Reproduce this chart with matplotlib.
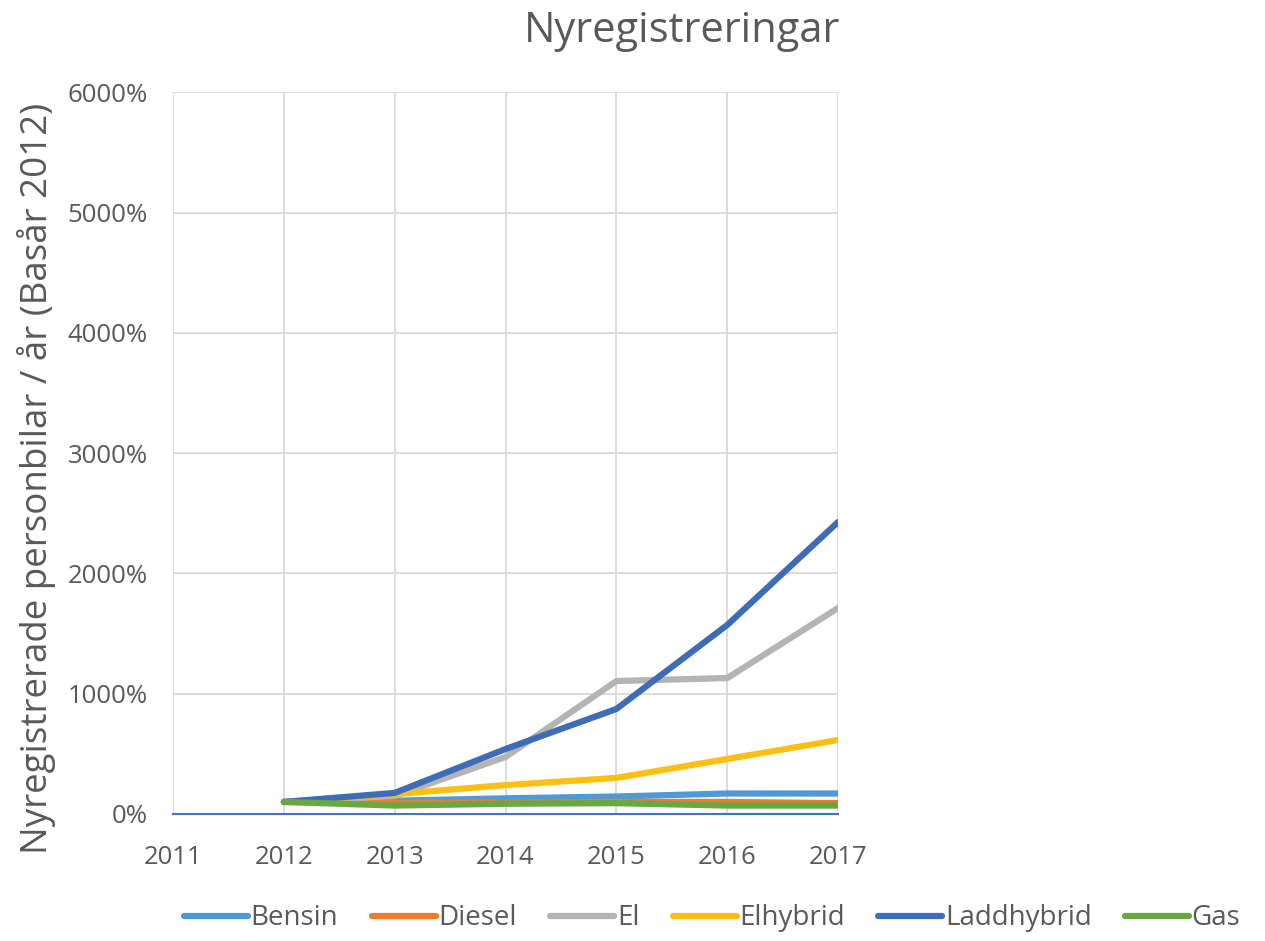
import matplotlib.pyplot as plt
from matplotlib.ticker import FuncFormatter

plt.rcParams['font.family'] = ['Open Sans', 'DejaVu Sans']

# data (index, base year 2012 = 100 %)
years = [2012, 2013, 2014, 2015, 2016, 2017]
series_names = ['Bensin', 'Diesel', 'El', 'Elhybrid', 'Laddhybrid', 'Gas']
bensin = [100, 110, 130, 145, 170, 170]
diesel = [100, 90, 95, 100, 100, 90]
el = [100, 150, 474, 1105, 1130, 1712]
elhybrid = [100, 165, 240, 300, 457, 615]
laddhybrid = [100, 175, 540, 873, 1571, 2427]
gas = [100, 70, 85, 90, 70, 70]
x_ticks = [2011, 2012, 2013, 2014, 2015, 2016, 2017]
y_ticks = [0, 1000, 2000, 3000, 4000, 5000, 6000]

colors = ['#4e9ad6', '#ee7b2a', '#b4b4b4', '#fdbf12', '#3e6db8', '#68a842']

fig = plt.figure(figsize=(12.65, 9.41), dpi=100)
ax = fig.add_axes([0.1368, 0.135, 0.5257, 0.767])

for name, vals, c in zip(series_names, [bensin, diesel, el, elhybrid, laddhybrid, gas], colors):
    ax.plot(years, vals, color=c, lw=4.5, label=name, solid_capstyle='round')

ax.set_xlim(2011, 2017)
ax.set_ylim(0, 6000)
ax.set_xticks(x_ticks)
ax.set_yticks(y_ticks)
ax.yaxis.set_major_formatter(FuncFormatter(lambda v, p: f'{int(v)}%'))
ax.grid(True, color='#d9d9d9', lw=1.3)
ax.set_axisbelow(True)
for s in ['top', 'right', 'left']:
    ax.spines[s].set_visible(False)
ax.spines['bottom'].set_color('#4472C4')
ax.spines['bottom'].set_linewidth(1.5)
ax.tick_params(length=0, labelsize=18.5, colors='#595959')
ax.tick_params(axis='y', pad=18)
ax.tick_params(axis='x', pad=22)

ax.set_ylabel('Nyregistrerade personbilar / år (Basår 2012)', fontsize=26.5, color='#595959')
ax.yaxis.set_label_coords(-0.176, 0.465)
fig.text(0.539, 0.967, 'Nyregistreringar', fontsize=30, color='#595959', ha='center', va='center')

fig.legend(loc='center', bbox_to_anchor=(0.563, 0.024), ncol=6, frameon=False,
           fontsize=20, handlelength=2.3, handletextpad=0.1, columnspacing=1.2,
           labelcolor='#595959')

fig.savefig('out.png', dpi=100)
